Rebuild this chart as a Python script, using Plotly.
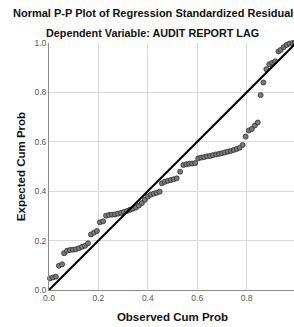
import plotly.graph_objects as go

# Observed cumulative probability (x) and expected cumulative probability (y)
observed_cum_prob = [
    0.004, 0.016, 0.028, 0.040, 0.053, 0.061, 0.073, 0.085, 0.097, 0.109,
    0.121, 0.134, 0.146, 0.158, 0.170, 0.182, 0.194, 0.206, 0.219, 0.231,
    0.243, 0.255, 0.267, 0.279, 0.291, 0.303, 0.316, 0.328, 0.340, 0.352,
    0.364, 0.376, 0.388, 0.400, 0.412, 0.424, 0.436, 0.448, 0.457, 0.469,
    0.481, 0.493, 0.505, 0.517, 0.531, 0.544, 0.556, 0.568, 0.580, 0.592,
    0.604, 0.616, 0.628, 0.640, 0.652, 0.664, 0.676, 0.688, 0.700, 0.712,
    0.724, 0.736, 0.748, 0.760, 0.772, 0.784, 0.796, 0.809, 0.821, 0.833,
    0.845, 0.857, 0.868, 0.880, 0.892, 0.904, 0.916, 0.929, 0.938, 0.950,
    0.962, 0.974, 0.986, 0.996,
]
expected_cum_prob = [
    0.047, 0.051, 0.054, 0.098, 0.104, 0.149, 0.159, 0.162, 0.163, 0.165,
    0.169, 0.175, 0.179, 0.189, 0.225, 0.232, 0.239, 0.274, 0.278, 0.301,
    0.304, 0.305, 0.306, 0.309, 0.312, 0.316, 0.320, 0.325, 0.329, 0.334,
    0.342, 0.352, 0.365, 0.378, 0.386, 0.390, 0.394, 0.398, 0.432, 0.438,
    0.442, 0.445, 0.448, 0.452, 0.479, 0.506, 0.509, 0.511, 0.512, 0.514,
    0.533, 0.536, 0.538, 0.541, 0.543, 0.546, 0.549, 0.551, 0.554, 0.557,
    0.560, 0.563, 0.567, 0.571, 0.576, 0.587, 0.621, 0.646, 0.652, 0.666,
    0.678, 0.789, 0.840, 0.894, 0.914, 0.920, 0.926, 0.966, 0.972, 0.983,
    0.992, 0.998, 1.000, 1.000,
]
reference_line = [0.0, 1.0]
tick_values = [0.0, 0.2, 0.4, 0.6, 0.8, 1.0]
tick_labels = ["0.0", "0.2", "0.4", "0.6", "0.8", "1.0"]

title_line1 = "Normal P-P Plot of Regression Standardized Residual"
title_line2 = "Dependent Variable: AUDIT REPORT LAG"

FONT = "Liberation Sans, Arial, sans-serif"

fig = go.Figure()
fig.add_trace(go.Scatter(
    x=observed_cum_prob, y=expected_cum_prob, mode="markers",
    marker=dict(size=5, color="#7a7a7a", line=dict(color="#2f2f2f", width=0.8)),
    showlegend=False, cliponaxis=False,
))
fig.add_trace(go.Scatter(
    x=reference_line, y=reference_line, mode="lines",
    line=dict(color="black", width=2), showlegend=False,
))

axis_common = dict(
    range=[0, 1], tickvals=tick_values, ticktext=tick_labels,
    showgrid=True, gridcolor="#d9d9d9", gridwidth=1,
    showline=True, linecolor="#8c8c8c", linewidth=1,
    zeroline=False, ticks="", tickfont=dict(family=FONT, size=8.5, color="#555555"),
)
fig.update_xaxes(**axis_common,
                 title=dict(text="<b>Observed Cum Prob</b>", font=dict(family=FONT, size=11.5, color="#111111"), standoff=10))
fig.update_yaxes(**axis_common,
                 title=dict(text="<b>Expected Cum Prob</b>", font=dict(family=FONT, size=11.5, color="#111111"), standoff=6))

fig.update_layout(
    width=300, height=327,
    margin=dict(l=49, r=4, t=43, b=37),
    paper_bgcolor="white", plot_bgcolor="white",
    font=dict(family=FONT),
    annotations=[
        dict(text="<b>" + title_line1 + "</b>", xref="paper", yref="paper",
             x=0.42, y=1.0, yshift=30, xanchor="center", yanchor="middle", showarrow=False,
             font=dict(family=FONT, size=11, color="#111111")),
        dict(text="<b>" + title_line2 + "</b>", xref="paper", yref="paper",
             x=0.42, y=1.0, yshift=10, xanchor="center", yanchor="middle", showarrow=False,
             font=dict(family=FONT, size=10.8, color="#111111")),
    ],
)

fig.write_html("out.html", config={"displayModeBar": False},
               post_script="document.body.style.margin='0';document.body.style.overflow='hidden';document.documentElement.style.overflow='hidden';")
